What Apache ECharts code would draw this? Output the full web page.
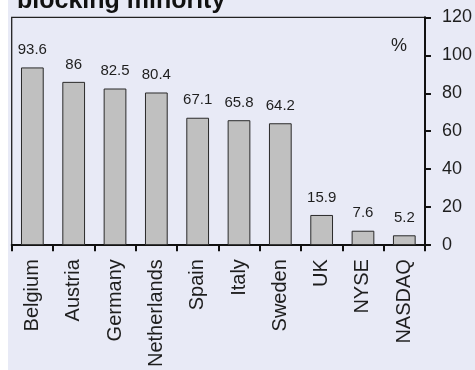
<!DOCTYPE html>
<html>
<head>
<meta charset="utf-8">
<script src="https://cdn.jsdelivr.net/npm/echarts@6/dist/echarts.min.js"></script>
<style>
  html, body { margin: 0; padding: 0; background: #ffffff; }
  #chart { position: absolute; left: 8px; top: 0; width: 467px; height: 370px; }
</style>
</head>
<body>
<div id="chart"></div>
<script>
// Share of companies with a blocking minority, by market
const categories = ['Belgium', 'Austria', 'Germany', 'Netherlands', 'Spain', 'Italy', 'Sweden', 'UK', 'NYSE', 'NASDAQ'];
const values = [93.6, 86, 82.5, 80.4, 67.1, 65.8, 64.2, 15.9, 7.6, 5.2];
const yTicks = [0, 20, 40, 60, 80, 100, 120];

const FONT = '"Liberation Sans", Arial, sans-serif';
const INK = '#1e1e1e';

const chart = echarts.init(document.getElementById('chart'), null, { renderer: 'canvas' });

chart.setOption({
  backgroundColor: '#e8eaf6',
  animation: false,
  title: {
    text: 'blocking minority',
    left: 9,
    top: -11,
    padding: 0,
    textStyle: { fontFamily: FONT, fontSize: 25, fontWeight: 'bold', color: '#111' }
  },
  grid: {
    left: 3.7,
    right: 49,
    top: 17.3,
    bottom: 121.7,
    show: true,
    borderColor: '#222',
    borderWidth: 1.3,
    backgroundColor: 'transparent'
  },
  xAxis: {
    type: 'category',
    data: categories,
    boundaryGap: true,
    axisLine: { show: true, lineStyle: { color: '#111', width: 2 } },
    axisTick: { show: true, alignWithLabel: false, length: 6, lineStyle: { color: '#111', width: 2 } },
    axisLabel: {
      rotate: 90,
      margin: 14,
      interval: 0,
      fontFamily: FONT,
      fontSize: 20,
      color: INK
    },
    splitLine: { show: false }
  },
  yAxis: {
    type: 'value',
    position: 'right',
    min: yTicks[0],
    max: yTicks[yTicks.length - 1],
    interval: yTicks[1] - yTicks[0],
    axisLine: { show: true, lineStyle: { color: '#111', width: 2 } },
    axisTick: { show: true, inside: false, length: 6, lineStyle: { color: '#111', width: 2 } },
    axisLabel: { margin: 17, fontFamily: FONT, fontSize: 18, color: INK },
    splitLine: { show: false }
  },
  graphic: [
    {
      type: 'text',
      left: 383,
      top: 37,
      style: { text: '%', font: '18px ' + FONT, fill: INK }
    }
  ],
  series: [
    {
      type: 'bar',
      data: values,
      barWidth: '55%',
      itemStyle: { color: '#c0c0c0', borderColor: '#2a2a2a', borderWidth: 1 },
      label: {
        show: true,
        position: 'top',
        distance: 10,
        fontFamily: FONT,
        fontSize: 15,
        color: INK
      }
    }
  ]
});
</script>
</body>
</html>
